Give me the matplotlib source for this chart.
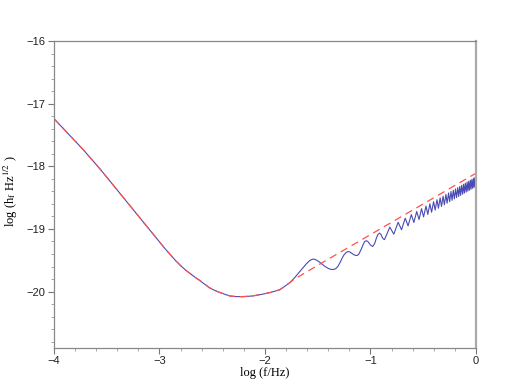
import numpy as np
import matplotlib
matplotlib.use("Agg")
import matplotlib.pyplot as plt

# ---- data (log10 f [Hz], log10 h_f) ----
# smooth part shared by both curves
base_x = [-4.00, -3.86, -3.72, -3.56, -3.41, -3.25, -3.09, -2.95, -2.85, -2.80,
          -2.75, -2.70, -2.66, -2.62, -2.59, -2.56, -2.53, -2.49, -2.45, -2.40,
          -2.37, -2.33, -2.27, -2.21, -2.12, -2.02, -1.94, -1.86, -1.80]
base_y = [-17.24, -17.49, -17.74, -18.05, -18.36, -18.69, -19.02, -19.31, -19.50, -19.585,
          -19.66, -19.725, -19.775, -19.82, -19.86, -19.895, -19.935, -19.97, -20.00, -20.03,
          -20.05, -20.07, -20.08, -20.08, -20.07, -20.04, -20.01, -19.97, -19.90]

# averaged (red dashed) high-frequency tail
red_tail_x = [-1.76, -1.73, -1.50, -1.00, -0.50, 0.00]
red_tail_y = [-19.85, -19.81, -19.58, -19.09, -18.60, -18.11]

# full (blue) oscillating high-frequency tail
osc_x = [-1.76, -1.72, -1.68, -1.64, -1.61, -1.58, -1.56, -1.542, -1.52, -1.49, -1.46,
         -1.43, -1.40, -1.375, -1.354, -1.33, -1.31, -1.29, -1.27, -1.25, -1.23,
         -1.215, -1.20, -1.18, -1.16, -1.14, -1.127, -1.11, -1.09, -1.07, -1.055,
         -1.039, -1.025, -1.01, -0.995, -0.978, -0.96, -0.945, -0.93, -0.914, -0.90,
         -0.89, -0.878, -0.867,
         -0.817, -0.779, -0.738, -0.706, -0.671, -0.644, -0.613, -0.589,
         -0.562, -0.540, -0.516, -0.497, -0.474, -0.457, -0.437, -0.421,
         -0.402, -0.387, -0.370, -0.356, -0.340, -0.327, -0.312, -0.300,
         -0.285, -0.274, -0.260, -0.250, -0.237, -0.227, -0.215, -0.205,
         -0.194, -0.184, -0.173, -0.164, -0.154, -0.146, -0.136, -0.127,
         -0.118, -0.110, -0.101, -0.093, -0.084, -0.077, -0.069, -0.062,
         -0.053, -0.047, -0.039, -0.032, -0.024, -0.018, -0.011, -0.005, 0.0]
osc_y = [-19.85, -19.78, -19.70, -19.62, -19.56, -19.51, -19.49, -19.48, -19.49, -19.52, -19.56,
         -19.60, -19.63, -19.645, -19.647, -19.635, -19.60, -19.54, -19.47, -19.41, -19.375,
         -19.361, -19.365, -19.385, -19.41, -19.422, -19.424, -19.40, -19.33, -19.25, -19.20,
         -19.188, -19.20, -19.235, -19.265, -19.278, -19.23, -19.15, -19.09, -19.066, -19.09,
         -19.13, -19.16, -19.170,
         -18.971, -19.083, -18.893, -19.012, -18.828, -18.951, -18.771, -18.897,
         -18.721, -18.849, -18.676, -18.807, -18.635, -18.768, -18.598, -18.733,
         -18.564, -18.699, -18.533, -18.669, -18.503, -18.641, -18.476, -18.614,
         -18.449, -18.589, -18.425, -18.565, -18.402, -18.543, -18.381, -18.521,
         -18.360, -18.500, -18.340, -18.481, -18.321, -18.463, -18.303, -18.445,
         -18.286, -18.428, -18.269, -18.411, -18.252, -18.396, -18.238, -18.381,
         -18.222, -18.366, -18.208, -18.351, -18.194, -18.338, -18.181, -18.324, -18.25]

x_ticks = [-4, -3, -2, -1, 0]
x_ticklabels = ["\u22124", "\u22123", "\u22122", "\u22121", "0"]
y_ticks = [-20, -19, -18, -17, -16]
y_ticklabels = ["\u221220", "\u221219", "\u221218", "\u221217", "\u221216"]

plt.rcParams["mathtext.fontset"] = "stix"

W, H = 531, 383
fig = plt.figure(figsize=(W/100, H/100), dpi=100)
ax = fig.add_axes([54/W, 1-348/H, (476-54)/W, (348-41)/H])

blue_x = base_x + osc_x
blue_y = base_y + osc_y
red_x = base_x + red_tail_x
red_y = base_y + red_tail_y

ax.plot(blue_x, blue_y, color="#4a4ab4", lw=0.8, solid_joinstyle="round")
ax.plot(red_x, red_y, color="#ff5050", lw=0.9, dashes=(6, 4))

ax.set_xlim(-4, 0)
ax.set_ylim(-20.9, -16)
ax.set_xticks(x_ticks)
ax.set_xticklabels(x_ticklabels)
ax.set_yticks(y_ticks)
ax.set_yticklabels(y_ticklabels)
ax.set_xticks(np.arange(-4, 0.001, 0.2), minor=True)
ax.set_yticks(np.arange(-20.8, -15.99, 0.2), minor=True)

for lab in ax.get_xticklabels() + ax.get_yticklabels():
    lab.set_family("Liberation Sans")
    lab.set_fontsize(8)
    lab.set_color("#222222")

ax.tick_params(which="major", direction="out", length=4, width=0.8, color="#777777", pad=2)
ax.tick_params(which="minor", direction="out", length=2, width=0.6, color="#999999")

for s in ax.spines.values():
    s.set_color("#888888")
    s.set_linewidth(0.9)
ax.spines["right"].set_linewidth(1.6)
ax.spines["right"].set_color("#aaaaaa")

fig.text(265/W, 1-373/H, "log (f/Hz)", family="Liberation Serif", fontsize=9,
         ha="center", va="center")
fig.text(11/W, 1-191/H, r"log (h$_\mathrm{f}$ Hz$^{1/2}$ )", family="Liberation Serif",
         fontsize=9, rotation=90, ha="center", va="center")

fig.savefig("out.png", dpi=100)
